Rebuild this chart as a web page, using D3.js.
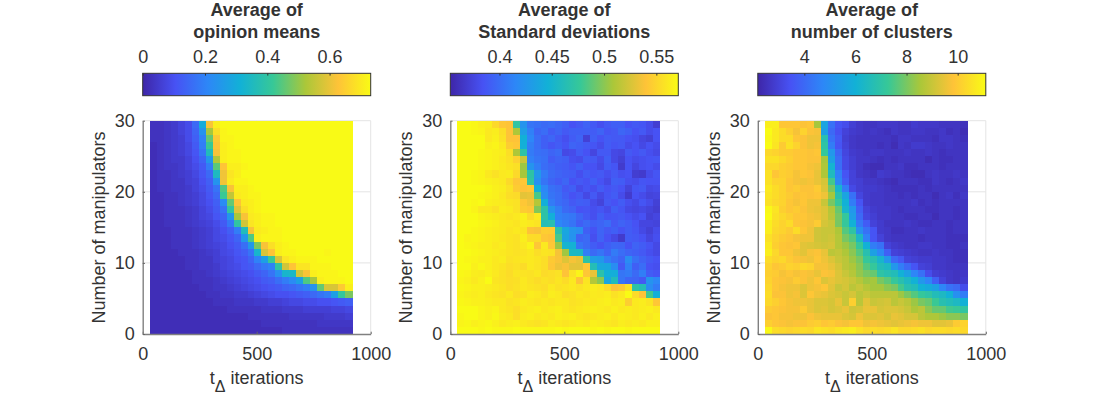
<!DOCTYPE html>
<html>
<head>
<meta charset="utf-8">
<script src="https://cdnjs.cloudflare.com/ajax/libs/d3/7.8.5/d3.min.js"></script>
<style>
  html, body { margin: 0; padding: 0; background: #fff; }
  text { font-family: "Liberation Sans", Arial, sans-serif; fill: #333; }
</style>
</head>
<body>
<div id="main"></div>
<script>
// column centres (t_delta iterations) and row values (manipulators, top row first)
var tDelta = [46,77,107,138,168,199,230,260,291,321,352,383,413,444,475,505,536,566,597,628,658,689,719,750,781,811,842,872,903];
var manipulators = [30,29,28,27,26,25,24,23,22,21,20,19,18,17,16,15,14,13,12,11,10,9,8,7,6,5,4,3,2,1];

var cbarTicks1 = [0,0.2,0.4,0.6];
var cbarTicks2 = [0.4,0.45,0.5,0.55];
var cbarTicks3 = [4,6,8,10];

// opinion means, in hundredths
var opinionMeans = [
[3,3,4,5,7,9,15,30,62,71,73,73,73,73,73,73,73,73,73,73,73,73,73,73,73,73,73,73,73],
[3,3,4,5,7,9,14,24,52,68,72,73,73,73,73,73,73,73,73,73,73,73,73,73,73,73,73,73,73],
[3,3,4,5,6,9,13,20,46,64,72,72,73,73,73,73,73,73,73,73,73,73,73,73,73,73,73,73,73],
[2,3,4,5,6,8,12,19,42,63,71,72,73,73,73,73,73,73,73,73,73,73,73,73,73,73,73,73,73],
[2,3,4,5,6,8,11,17,36,62,71,72,72,73,73,73,73,73,73,73,73,73,73,73,73,73,73,73,73],
[2,3,4,5,5,7,10,14,25,53,71,72,72,73,73,73,73,73,73,73,73,73,73,73,73,73,73,73,73],
[2,3,4,4,5,7,9,12,19,45,63,71,71,72,73,73,73,73,73,73,73,73,73,73,73,73,73,73,73],
[2,3,3,4,5,6,8,11,15,35,61,69,71,73,73,73,73,73,73,73,73,73,73,73,73,73,73,73,73],
[2,3,3,4,4,6,7,10,13,24,61,70,72,72,73,73,73,73,73,73,73,73,73,73,73,73,73,73,73],
[2,3,3,4,4,5,7,9,12,17,44,62,71,71,72,73,73,73,73,73,73,73,73,73,73,73,73,73,73],
[2,2,3,3,4,5,6,8,11,15,42,55,70,71,72,72,73,73,73,73,73,73,73,73,73,73,73,73,73],
[2,2,3,3,4,5,6,8,10,13,22,46,63,70,71,72,73,73,73,73,73,73,73,73,73,73,73,73,73],
[2,2,3,3,3,4,5,7,9,12,17,40,59,68,71,72,73,73,73,73,73,73,73,73,73,73,73,73,73],
[2,2,3,3,3,4,5,7,8,11,14,25,52,62,70,71,72,72,73,73,73,73,73,73,73,73,73,73,73],
[2,2,3,3,3,4,5,6,7,9,12,18,40,57,69,71,72,72,73,73,73,73,73,73,73,73,73,73,73],
[2,2,2,3,3,3,4,5,6,8,10,13,19,36,62,70,71,72,72,73,73,73,73,73,73,73,73,73,73],
[2,2,2,3,3,3,4,5,6,8,9,11,14,25,44,71,72,72,72,73,73,73,73,73,73,73,73,73,73],
[2,2,2,3,3,3,4,5,6,7,8,10,12,16,25,48,62,68,71,72,73,73,73,73,73,73,73,73,73],
[2,2,2,2,3,3,3,4,5,6,8,9,11,13,17,33,58,63,71,72,72,73,73,73,73,72,73,73,73],
[2,2,2,2,2,3,3,4,4,6,7,8,10,11,14,20,27,42,58,69,71,72,72,72,73,73,73,73,73],
[2,2,2,2,2,3,3,4,4,5,7,8,9,11,12,15,18,20,40,57,63,69,69,72,72,72,73,73,73],
[2,2,2,2,2,2,3,3,4,5,6,7,8,9,10,12,14,17,23,33,34,57,62,71,72,72,72,73,73],
[2,2,2,2,2,2,3,3,3,4,5,6,7,8,9,10,12,13,16,19,22,27,44,52,71,72,72,72,73],
[2,2,2,2,2,2,2,3,3,4,4,5,6,7,8,9,10,11,12,14,15,17,19,24,46,58,58,64,71],
[2,2,2,2,2,2,2,2,3,3,4,4,5,5,6,7,8,9,10,10,11,12,13,15,17,19,27,41,48],
[2,2,2,2,2,2,2,2,2,3,3,3,4,4,4,5,5,6,6,7,8,8,9,9,10,10,11,12,13],
[2,2,2,2,2,2,2,2,2,2,2,3,3,3,3,3,4,4,4,5,5,5,6,6,6,6,7,7,8],
[2,2,2,2,2,2,2,2,2,2,2,2,2,2,3,3,3,3,3,3,4,4,4,4,4,5,5,5,6],
[2,2,2,2,2,2,2,2,2,2,2,2,2,2,2,2,3,3,3,3,3,3,3,3,4,4,4,4,4],
[2,2,2,2,2,2,2,2,2,2,2,2,2,2,2,2,2,2,2,3,3,3,3,3,3,3,3,3,3]
];

// standard deviations, in thousandths
var standardDevs = [
[571,571,569,565,563,552,542,540,472,425,405,402,398,400,396,392,384,388,394,388,382,388,392,392,385,388,386,380,370],
[571,571,569,567,561,563,555,540,510,432,412,396,400,390,395,388,392,392,392,390,395,386,388,396,392,384,388,380,384],
[571,571,571,571,561,565,557,540,540,446,415,400,392,396,388,382,390,395,372,392,385,390,388,388,384,382,376,372,384],
[571,571,571,571,565,567,561,545,542,445,410,400,392,386,390,385,395,392,388,386,380,390,386,388,380,384,378,384,380],
[571,571,571,569,567,565,563,555,510,470,408,402,400,395,398,378,380,390,384,376,388,388,378,376,388,384,388,382,378],
[571,571,571,569,567,565,561,557,548,520,412,405,402,390,394,392,382,380,390,388,380,392,378,372,384,380,382,385,386],
[571,571,571,569,567,565,562,559,556,505,425,410,400,396,392,390,386,392,385,384,378,390,386,368,385,376,382,384,380],
[571,571,569,567,561,557,561,562,552,508,470,428,408,398,395,392,390,382,390,386,388,382,388,382,384,370,368,380,386],
[571,571,569,567,565,563,561,552,542,542,472,422,404,395,390,396,384,388,385,392,384,378,392,390,382,380,386,384,384],
[571,571,571,571,569,565,563,557,545,540,542,445,415,402,398,388,392,380,386,382,390,384,388,384,374,386,388,378,380],
[571,571,571,569,567,565,561,555,553,530,532,482,420,404,400,392,384,388,378,388,378,386,390,380,368,384,380,374,376],
[571,571,569,571,565,563,562,559,557,542,535,512,445,408,400,396,388,392,390,380,374,388,384,390,382,378,386,380,372],
[571,571,567,561,561,557,564,562,557,545,542,498,470,425,410,398,394,384,386,382,386,380,392,386,378,376,378,374,370],
[571,571,571,567,565,563,561,559,561,565,554,561,470,445,412,408,406,396,388,382,392,385,386,388,384,380,384,372,376],
[571,571,571,569,567,565,562,561,559,563,561,558,462,465,415,410,404,392,398,392,395,400,388,394,390,384,376,376,374],
[571,571,569,567,565,563,562,559,561,559,540,538,546,545,468,438,425,420,392,385,395,388,392,385,390,386,378,372,380],
[571,567,569,567,565,563,561,559,557,564,554,553,542,540,482,436,424,395,398,382,394,384,378,368,390,388,384,376,382],
[571,569,567,565,565,561,563,559,557,561,567,542,561,542,505,450,448,405,398,390,385,392,396,395,385,394,390,385,378],
[571,571,569,567,565,563,561,559,557,558,561,555,559,557,537,506,456,455,410,398,404,394,408,400,395,392,388,382,378],
[571,569,567,565,565,561,563,557,559,560,561,559,555,544,538,528,537,532,470,432,428,410,402,395,420,402,394,388,384],
[571,571,565,569,565,561,559,555,557,554,561,558,555,542,534,538,530,530,542,462,440,438,420,388,412,392,400,384,382],
[569,567,563,562,565,561,557,554,559,558,557,560,553,555,557,540,557,567,542,532,468,446,444,405,408,398,410,390,386],
[567,565,561,565,571,559,557,555,556,561,557,554,557,555,559,554,561,540,559,512,500,438,460,405,396,395,388,425,415],
[569,567,565,565,563,561,559,555,557,561,559,557,555,561,557,559,561,557,561,563,561,554,540,544,557,470,462,420,408],
[567,565,563,565,561,559,557,561,555,557,563,561,557,563,561,555,557,561,559,562,561,563,557,561,571,553,540,480,445],
[569,567,565,565,563,561,561,557,559,563,561,559,561,559,561,561,557,559,561,561,563,565,561,563,546,561,563,559,542],
[571,571,571,567,565,567,561,559,555,561,563,565,561,563,565,561,559,561,563,565,563,561,565,561,563,561,563,565,561],
[569,571,571,567,565,569,563,561,555,563,565,561,563,561,565,563,565,561,559,561,563,565,561,565,563,561,565,561,565],
[567,569,565,567,569,565,561,563,565,561,559,557,559,563,561,559,561,563,561,565,563,561,559,563,561,563,561,565,565],
[571,571,571,569,571,569,569,569,571,569,569,569,569,569,571,569,571,571,571,569,571,569,571,571,569,571,571,571,571]
];

// number of clusters, in tenths
var clusterCounts = [
[108,108,99,99,99,98,99,85,56,42,35,33,29,27,26,26,27,27,27,26,26,28,27,27,27,26,26,26,25],
[111,107,104,101,97,102,98,97,55,40,34,30,28,27,26,27,26,25,27,26,26,27,27,26,26,27,25,26,24],
[110,107,104,104,99,98,96,96,68,42,36,29,27,26,26,26,26,26,25,27,27,26,26,26,25,27,27,26,25],
[111,106,100,105,102,98,96,97,70,45,35,30,27,26,26,26,25,26,24,27,26,28,28,27,26,26,27,26,26],
[103,102,100,100,99,99,98,99,72,52,39,31,28,27,26,27,27,26,26,26,27,26,26,27,26,25,26,26,26],
[105,105,103,101,99,99,98,98,85,55,41,32,29,27,27,26,25,26,25,26,26,26,26,24,26,25,25,26,26],
[103,103,101,100,99,99,97,96,86,61,41,32,29,27,25,24,24,26,26,27,25,25,26,26,26,25,26,26,26],
[105,99,101,100,97,99,98,95,86,65,46,35,30,27,26,25,28,27,26,26,25,24,24,26,27,26,26,27,26],
[105,102,102,99,97,96,97,95,92,74,48,37,30,29,27,27,26,25,24,26,26,26,25,25,27,26,25,26,27],
[107,104,102,99,100,98,98,100,93,80,62,45,32,29,28,28,27,26,25,25,25,25,26,25,26,26,26,26,26],
[106,104,102,100,98,99,98,99,96,85,68,56,42,31,28,27,27,26,26,25,26,25,26,26,24,26,27,25,27],
[105,103,102,99,97,99,96,96,90,80,72,60,45,35,28,27,27,26,26,26,26,27,25,26,25,26,26,26,26],
[110,106,101,99,100,98,96,95,93,87,78,62,52,38,30,28,27,27,26,25,26,26,26,25,25,26,26,25,26],
[112,105,103,101,99,99,97,96,93,88,80,72,54,40,31,29,27,27,26,26,25,25,26,26,24,26,26,25,26],
[108,104,102,104,99,98,97,100,92,90,80,72,60,44,37,30,28,26,26,26,27,26,25,25,26,26,25,26,26],
[108,103,102,100,104,99,96,91,90,90,86,76,70,50,42,35,28,27,25,25,26,26,27,26,26,26,25,26,26],
[105,102,100,99,97,96,96,91,90,91,87,80,76,64,46,35,30,27,26,26,26,26,25,26,26,26,25,25,25],
[107,101,99,98,99,94,93,92,91,92,87,84,80,72,60,45,42,30,28,27,26,26,27,27,26,26,25,25,26],
[108,103,99,99,96,94,97,98,95,88,89,86,82,76,68,55,48,38,30,29,28,27,26,26,27,26,26,25,25],
[104,102,103,100,98,97,96,99,96,93,90,88,84,80,72,68,62,52,40,36,30,29,28,28,27,27,26,25,25],
[102,99,100,102,101,103,102,97,97,95,92,88,86,82,76,72,66,64,52,45,40,35,30,29,27,27,26,26,26],
[101,100,97,99,97,98,97,95,98,97,93,90,87,83,80,78,70,68,66,60,55,47,42,33,29,28,27,26,27],
[102,99,98,97,100,98,96,99,93,95,93,92,90,87,84,85,80,77,72,68,64,60,52,47,38,30,27,26,28],
[103,99,97,96,96,93,96,97,99,94,90,92,88,90,87,85,85,82,80,74,68,66,60,58,55,47,42,40,33],
[104,98,98,96,97,93,99,96,95,93,92,90,92,88,90,88,88,88,88,84,80,76,72,70,66,64,60,50,45],
[103,101,99,97,96,96,95,93,93,92,95,90,101,88,94,90,91,92,88,90,88,84,80,78,73,68,66,64,60],
[100,99,98,97,97,100,95,93,94,92,93,95,91,92,95,95,92,93,93,92,90,86,88,82,78,78,74,73,71],
[98,99,97,97,96,96,98,96,95,95,95,93,92,96,93,93,94,92,95,94,92,92,88,86,86,84,82,82,80],
[101,99,98,97,98,98,100,101,99,100,98,97,99,99,96,97,96,95,94,95,96,97,96,96,94,94,95,100,102],
[110,104,103,102,103,104,103,106,105,104,106,107,108,105,103,104,103,104,106,103,103,104,105,103,104,104,103,104,103]
];

// parula colormap stops
var parulaColors = ["#3e26a8","#4752f4","#2d87f7","#12b1d6","#37c897","#abc739","#fec338","#f9fb15"];

var width = 1096, height = 396;
var plotTop = 120.7, plotBottom = 334;
var cbarTop = 73.3, cbarBottom = 95.7;
var fontSize = "18px";

var panels = [
  { left: 142.7, right: 370.7, values: opinionMeans, factor: 100, domain: [0, 0.732], ticks: cbarTicks1, title: ["Average of", "opinion means"] },
  { left: 450.3, right: 678.3, values: standardDevs, factor: 1000, domain: [0.353, 0.571], ticks: cbarTicks2, title: ["Average of", "Standard deviations"] },
  { left: 757.8, right: 985.8, values: clusterCounts, factor: 10, domain: [2.18, 11.1], ticks: cbarTicks3, title: ["Average of", "number of clusters"] }
];

var svg = d3.select("#main")
  .append("svg")
  .attr("width", width)
  .attr("height", height)
  .style("display", "block");

var defs = svg.append("defs");
var gradient = defs.append("linearGradient").attr("id", "parula");
parulaColors.forEach(function(c, i) {
  gradient.append("stop")
    .attr("offset", (i / (parulaColors.length - 1)))
    .attr("stop-color", c);
});

panels.forEach(function(p) {
  var x = d3.scaleLinear().domain([0, 1000]).range([p.left, p.right]);
  var y = d3.scaleLinear().domain([0, 30]).range([plotBottom, plotTop]);
  // image covers slightly less than the axis range
  var xBand = d3.scaleBand().domain(tDelta).range([x(31), x(919)]);
  var yBand = d3.scaleBand().domain(manipulators).range([y(30), y(0)]);
  var stops = d3.range(parulaColors.length).map(function(i) {
    return p.domain[0] + (p.domain[1] - p.domain[0]) * i / (parulaColors.length - 1);
  });
  var color = d3.scaleLinear().domain(stops).range(parulaColors).clamp(true);

  // grid first so the cells sit on top
  var grid = svg.append("g").attr("stroke", "#e4e4e4").attr("stroke-width", 1);
  [10, 20, 30].forEach(function(v) {
    grid.append("line").attr("x1", x(0)).attr("x2", x(1000)).attr("y1", y(v)).attr("y2", y(v));
  });
  [500, 1000].forEach(function(v) {
    grid.append("line").attr("x1", x(v)).attr("x2", x(v)).attr("y1", y(0)).attr("y2", y(30));
  });

  manipulators.forEach(function(m, r) {
    svg.append("g").selectAll("rect")
      .data(p.values[r])
      .enter().append("rect")
      .attr("x", function(d, i) { return xBand(tDelta[i]); })
      .attr("y", yBand(m))
      .attr("width", xBand.bandwidth() + 0.5)
      .attr("height", yBand.bandwidth() + 0.5)
      .attr("shape-rendering", "crispEdges")
      .attr("fill", function(d) { return color(d / p.factor); });
  });

  var xAxis = svg.append("g")
    .attr("transform", "translate(0," + plotBottom + ")")
    .call(d3.axisBottom(x).tickValues([0, 500, 1000]).tickFormat(d3.format("d")).tickSizeInner(-2.3).tickSizeOuter(0).tickPadding(13));
  var yAxis = svg.append("g")
    .attr("transform", "translate(" + p.left + ",0)")
    .call(d3.axisLeft(y).tickValues([0, 10, 20, 30]).tickSizeInner(-2.3).tickSizeOuter(0).tickPadding(8));
  [xAxis, yAxis].forEach(function(a) {
    a.selectAll(".domain").attr("stroke", "#808080").attr("stroke-width", 1.4);
    a.selectAll(".tick line").attr("stroke", "#666");
    a.selectAll("text").style("font-size", fontSize).attr("fill", "#333");
  });

  svg.append("text")
    .attr("transform", "translate(" + (p.left - 38) + ",227.5) rotate(-90)")
    .attr("text-anchor", "middle")
    .style("font-size", fontSize)
    .text("Number of manipulators");

  var xLabel = svg.append("text")
    .attr("x", (p.left + p.right) / 2)
    .attr("y", 384)
    .attr("text-anchor", "middle")
    .style("font-size", fontSize);
  xLabel.append("tspan").text("t");
  xLabel.append("tspan").attr("dy", 8).style("font-size", "16px").text("Δ");
  xLabel.append("tspan").attr("dy", -8).text(" iterations");

  // colorbar
  var cx = d3.scaleLinear().domain(p.domain).range([p.left, p.right]);
  svg.append("rect")
    .attr("x", p.left)
    .attr("y", cbarTop)
    .attr("width", p.right - p.left)
    .attr("height", cbarBottom - cbarTop)
    .attr("fill", "url(#parula)")
    .attr("stroke", "#333")
    .attr("stroke-width", 1);
  var cAxis = svg.append("g")
    .attr("transform", "translate(0," + cbarTop + ")")
    .call(d3.axisTop(cx).tickValues(p.ticks).tickFormat(d3.format("")).tickSizeInner(-2.3).tickSizeOuter(0).tickPadding(10));
  cAxis.select(".domain").remove();
  cAxis.selectAll(".tick line").attr("stroke", "#333");
  cAxis.selectAll("text").style("font-size", fontSize).attr("fill", "#333");

  p.title.forEach(function(t, i) {
    svg.append("text")
      .attr("x", (p.left + p.right) / 2)
      .attr("y", 16 + i * 22)
      .attr("text-anchor", "middle")
      .style("font-size", fontSize)
      .style("font-weight", "bold")
      .text(t);
  });
});
</script>
</body>
</html>
